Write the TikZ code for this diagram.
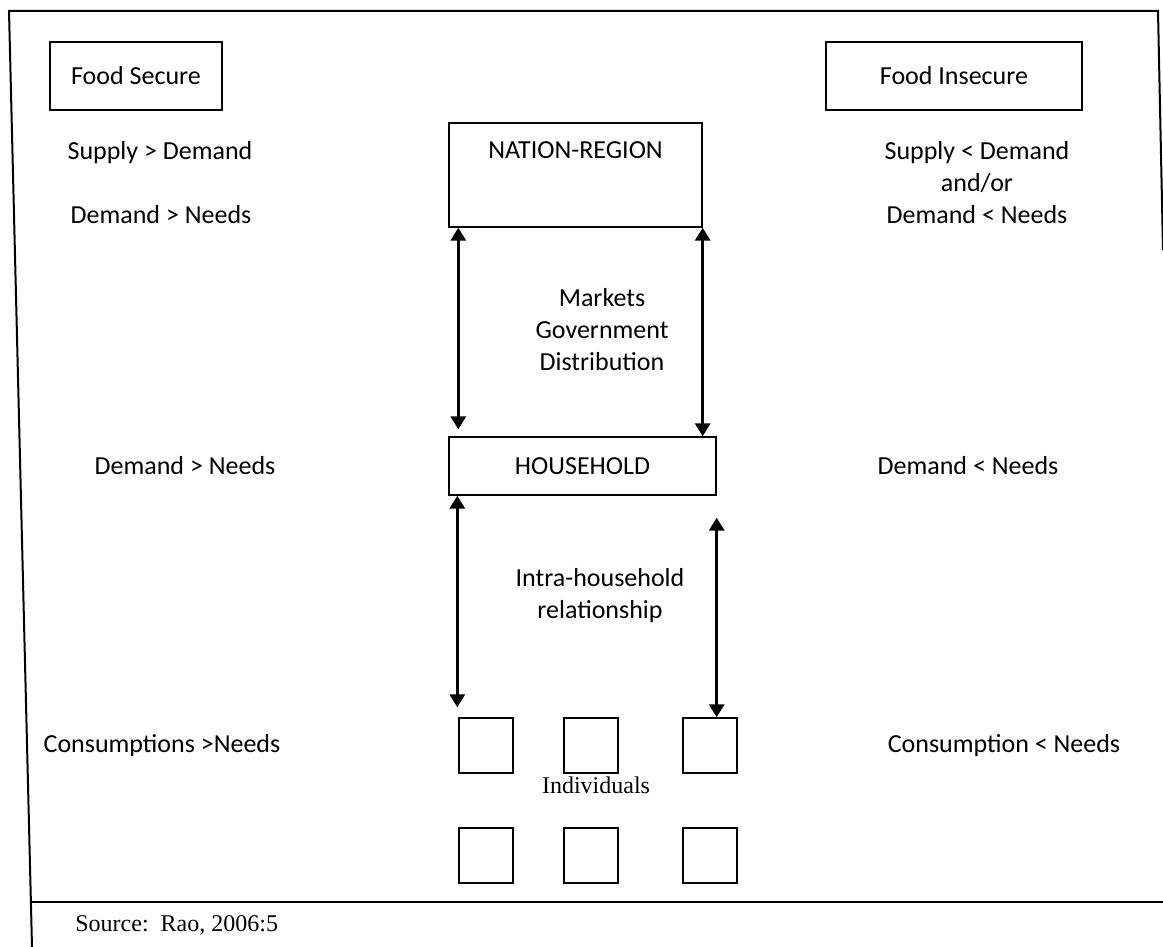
\documentclass[tikz,border=0pt]{standalone}
\usepackage{fontspec}
\setmainfont{Carlito}
\newfontfamily\seriffont{Liberation Serif}
\usetikzlibrary{arrows.meta}

\begin{document}
\begin{tikzpicture}[x=0.5pt,y=-0.5pt,
    box/.style={draw,line width=0.7pt,inner sep=0pt},
    lbl/.style={font=\fontsize{13}{16}\selectfont,align=center,inner sep=0pt},
    serif/.style={font=\seriffont\fontsize{12}{14}\selectfont,inner sep=0pt},
    dblarrow/.style={line width=1.6pt,
        {Triangle[width=7.5pt,length=6.5pt]}-{Triangle[width=7.5pt,length=6.5pt]}}]
    \useasboundingbox (0,0) rectangle (1163,947);

    % Frame round the figure, with the source line at the bottom
    \draw[line width=1pt] (32,947) -- (9,11) -- (1158,11) -- (1163,250);
    \draw[line width=1pt] (31,902) -- (1163,902);

    % Headings
    \node[box,lbl,minimum width=86pt,minimum height=34pt] (secure) at (136,76) {Food Secure};
    \node[box,lbl,minimum width=128pt,minimum height=34pt] (insecure) at (954,76) {Food Insecure};

    % Levels in the middle
    \node[box,minimum width=126.5pt,minimum height=52pt] (nation) at (575.5,175) {};
    \node[lbl] (nationtxt) at (575.5,150) {NATION-REGION};
    \node[box,lbl,minimum width=133.5pt,minimum height=29pt] (house) at (582.5,466) {HOUSEHOLD};
    \foreach \n/\x in {1/486,2/591,3/710}{%
        \node[box,minimum width=27pt,minimum height=27.5pt] (ind\n) at (\x,745.5) {};
        \node[box,minimum width=27pt,minimum height=27.5pt] (indb\n) at (\x,855.5) {};
    }
    \node[serif] (indiv) at (596,785) {Individuals};

    % Links between the levels
    \draw[dblarrow] ([xshift=5pt]nation.south west) -- ([xshift=5pt,yshift=3.5pt]house.north west);
    \draw[dblarrow] (nation.south east) -- (nation.south east |- house.north);
    \node[lbl] (markets) at (602,330) {Markets\\Government\\Distribution};
    \draw[dblarrow] ([xshift=4.5pt]house.south west) -- ([xshift=4.5pt,yshift=5pt]house.south west |- ind1.north);
    \draw[dblarrow] ([yshift=-11pt]house.south east) -- (house.south east |- ind3.north);
    \node[lbl] (intra) at (600,596) {Intra-household\\relationship};

    % Food secure side
    \node[lbl] (ls1) at (160,153) {Supply > Demand};
    \node[lbl] (ls2) at (161,215) {Demand > Needs};
    \node[lbl] (ls3) at (185,466) {Demand > Needs};
    \node[lbl] (ls4) at (162,746) {Consumptions >Needs};

    % Food insecure side
    \node[lbl] (rs1) at (977,183) {Supply < Demand\\and/or\\Demand < Needs};
    \node[lbl] (rs2) at (968,466) {Demand < Needs};
    \node[lbl] (rs3) at (1004,746) {Consumption < Needs};

    \node[serif,anchor=west] (source) at (75,925) {Source:\ \ Rao, 2006:5};
\end{tikzpicture}
\end{document}
